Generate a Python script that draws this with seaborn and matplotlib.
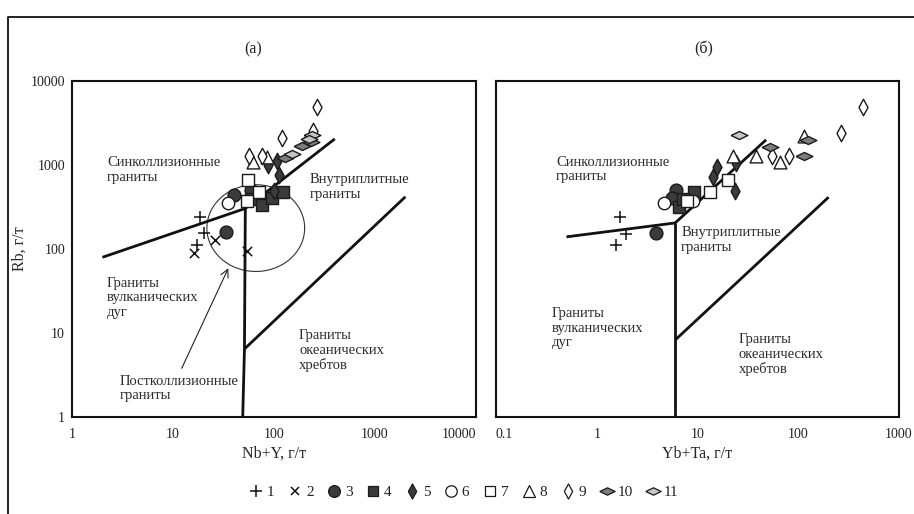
import numpy as np
import pandas as pd
import matplotlib
matplotlib.use("Agg")
import matplotlib.pyplot as plt
from matplotlib.lines import Line2D
from matplotlib.ticker import FixedLocator, FixedFormatter, NullLocator
import seaborn as sns

# ---- panel (а): Rb vs Nb+Y ----
a_group = [1, 1, 1, 2, 2, 2, 3, 3, 3, 4, 4, 4, 4, 5, 5, 5, 5, 6, 7, 7, 7,
           8, 8, 9, 9, 9, 9, 9, 10, 10, 10, 11, 11, 11]
a_nby = [18.5, 20.3, 17.2, 16.1, 26, 54.4, 33.5, 40.2, 59.2, 59, 76.6, 96, 124,
         88, 108, 113, 101, 35.3, 55.7, 71.5, 53.7, 62.4, 86,
         56.9, 75.5, 119, 265, 245, 191, 230, 128, 236, 220, 150]
a_rb = [240, 155, 112, 90, 129, 95, 158, 443, 499, 394, 337, 405, 472,
        1009, 1104, 767, 485, 353, 668, 472, 369, 1074, 1245,
        1266, 1291, 2096, 4900, 2513, 1700, 1900, 1230, 2250, 2050, 1350]

# ---- panel (б): Rb vs Yb+Ta ----
b_group = [1, 1, 1, 3, 3, 3, 4, 4, 4, 5, 5, 5, 5, 6, 6, 7, 7, 7,
           8, 8, 8, 8, 9, 9, 9, 9, 10, 10, 10, 11]
b_ybta = [1.72, 1.94, 1.54, 3.9, 6.05, 5.6, 9.3, 6.6, 7.2, 14.2, 15.5, 23.8, 24,
          4.7, 8.97, 7.8, 13.2, 20, 22.7, 38.1, 65.9, 115,
          55, 81.5, 268, 440, 52.5, 115, 124, 25.6]
b_rb = [244, 152, 113, 155, 499, 405, 472, 320, 400, 719, 946, 485, 1056,
        353, 369, 369, 472, 668, 1291, 1291, 1074, 2190,
        1266, 1266, 2404, 4900, 1637, 1291, 1964, 2296]

# field boundaries (Pearce et al.)
a_b1_x, a_b1_y = [2, 52, 400], [80, 305, 2050]
a_b2_x, a_b2_y = [52, 51, 49], [305, 6.5, 1]
a_b3_x, a_b3_y = [51, 2000], [6.5, 420]
b_b1_x, b_b1_y = [0.5, 6, 48], [140, 205, 2000]
b_b2_x, b_b2_y = [6, 6, 6], [205, 8.3, 1]
b_b3_x, b_b3_y = [6, 200], [8.3, 415]

# post-collisional ellipse (centre, half-axes in decades)
ell_centre = (66, 178)
ell_half = (0.484, 0.516)

legend_labels = ["1", "2", "3", "4", "5", "6", "7", "8", "9", "10", "11"]

tall = [(-0.55, 0), (0, 1), (0.55, 0), (0, -1), (-0.55, 0)]
flat = [(-1, 0), (0, 0.48), (1, 0), (0, -0.48), (-1, 0)]
dark = "#3b3b3b"
styles = {
    1: dict(marker="+", s=85, face="#111111"),
    2: dict(marker="x", s=45, face="#111111"),
    3: dict(marker="o", s=85, face=dark),
    4: dict(marker="s", s=70, face=dark),
    5: dict(marker=tall, s=140, face=dark),
    6: dict(marker="o", s=80, face="white"),
    7: dict(marker="s", s=70, face="white"),
    8: dict(marker="^", s=85, face="white"),
    9: dict(marker=tall, s=140, face="white"),
    10: dict(marker=flat, s=145, face="#7d7d7d"),
    11: dict(marker=flat, s=145, face="#c6c6c6"),
}

sns.set_theme(style="white")
plt.rcParams["font.family"] = ["Liberation Serif", "DejaVu Serif"]
plt.rcParams["text.color"] = "#222222"

fig = plt.figure(figsize=(9.14, 5.14), dpi=100)
ax1 = fig.add_axes([72 / 914, 1 - 417.3 / 514, 404 / 914, 336.3 / 514])
ax2 = fig.add_axes([496 / 914, 1 - 417.3 / 514, 403 / 914, 336.3 / 514])

df_a = pd.DataFrame({"group": a_group, "x": a_nby, "y": a_rb})
df_b = pd.DataFrame({"group": b_group, "x": b_ybta, "y": b_rb})


def draw_points(ax, df):
    for g, st in styles.items():
        sub = df[df["group"] == g]
        if sub.empty:
            continue
        if st["marker"] in ("+", "x"):
            sns.scatterplot(data=sub, x="x", y="y", marker=st["marker"], s=st["s"],
                            color=st["face"], linewidth=1.1, ax=ax, zorder=4)
        else:
            sns.scatterplot(data=sub, x="x", y="y", marker=st["marker"], s=st["s"],
                            color=st["face"], edgecolor="#1a1a1a", linewidth=1.0,
                            ax=ax, zorder=4)


line_kw = dict(color="#111111", lw=2.0, zorder=3, solid_capstyle="butt")
for xs, ys in [(a_b1_x, a_b1_y), (a_b2_x, a_b2_y), (a_b3_x, a_b3_y)]:
    ax1.plot(xs, ys, **line_kw)
for xs, ys in [(b_b1_x, b_b1_y), (b_b2_x, b_b2_y), (b_b3_x, b_b3_y)]:
    ax2.plot(xs, ys, **line_kw)

t = np.linspace(0, 2 * np.pi, 300)
ax1.plot(10 ** (np.log10(ell_centre[0]) + ell_half[0] * np.cos(t)),
         10 ** (np.log10(ell_centre[1]) + ell_half[1] * np.sin(t)),
         color="#333333", lw=0.8, zorder=2)
ax1.annotate("", xy=(35.3, 59.4), xytext=(12.2, 3.83),
             arrowprops=dict(arrowstyle="->", lw=0.8, color="#222222",
                             shrinkA=0, shrinkB=0, mutation_scale=14))

draw_points(ax1, df_a)
draw_points(ax2, df_b)

for ax in (ax1, ax2):
    ax.set_xscale("log")
    ax.set_yscale("log")
    ax.set_ylim(1, 10000)
    for sp in ax.spines.values():
        sp.set_linewidth(1.5)
        sp.set_color("#111111")
    ax.xaxis.set_minor_locator(NullLocator())
    ax.yaxis.set_minor_locator(NullLocator())
    ax.tick_params(direction="in", length=5, width=1.5, color="#111111",
                   labelsize=10, labelcolor="#222222")
    ax.tick_params(axis="x", pad=8)
    ax.tick_params(axis="y", pad=5)

ax1.set_xlim(1, 10000)
ax1.xaxis.set_major_locator(FixedLocator([1, 10, 100, 1000, 10000]))
ax1.xaxis.set_major_formatter(FixedFormatter(["1", "10", "100", "1000", "10000"]))
ax1.yaxis.set_major_locator(FixedLocator([1, 10, 100, 1000, 10000]))
ax1.yaxis.set_major_formatter(FixedFormatter(["1", "10", "100", "1000", "10000"]))
ax1.get_xticklabels()[-1].set_ha("right")

ax2.set_xlim(0.1, 1000)
ax2.xaxis.set_major_locator(FixedLocator([0.1, 1, 10, 100, 1000]))
ax2.xaxis.set_major_formatter(FixedFormatter(["0.1", "1", "10", "100", "1000"]))
ax2.get_xticklabels()[0].set_ha("left")
ax2.tick_params(axis="y", left=False, labelleft=False)

ax1.set_xlabel("Nb+Y, г/т", fontsize=11.5, labelpad=3)
ax2.set_xlabel("Yb+Ta, г/т", fontsize=11.5, labelpad=3)
ax1.set_ylabel("Rb, г/т", fontsize=11.5, labelpad=2)
ax2.set_ylabel("")

ax1.text(0.448, 1.094, "(а)", transform=ax1.transAxes, ha="center", va="center", fontsize=11.5)
ax2.text(0.516, 1.094, "(б)", transform=ax2.transAxes, ha="center", va="center", fontsize=11.5)

txt_kw = dict(ha="left", va="center", fontsize=10.5, linespacing=1.15, color="#2a2a2a")
ax1.text(2.22, 879, "Синколлизионные\nграниты", **txt_kw)
ax1.text(224, 552, "Внутриплитные\nграниты", **txt_kw)
ax1.text(2.21, 26.5, "Граниты\nвулканических\nдуг", **txt_kw)
ax1.text(177, 6.2, "Граниты\nокеанических\nхребтов", **txt_kw)
ax1.text(2.99, 2.21, "Постколлизионные\nграниты", **txt_kw)
ax2.text(0.393, 887, "Синколлизионные\nграниты", **txt_kw)
ax2.text(6.9, 129, "Внутриплитные\nграниты", **txt_kw)
ax2.text(0.356, 11.4, "Граниты\nвулканических\nдуг", **txt_kw)
ax2.text(25.6, 5.52, "Граниты\nокеанических\nхребтов", **txt_kw)

handles = []
for g, st in styles.items():
    ms = np.sqrt(st["s"]) * 0.92
    if st["marker"] in ("+", "x"):
        h = Line2D([], [], marker=st["marker"], ls="none", ms=ms, color=st["face"], mew=1.1)
    else:
        h = Line2D([], [], marker=st["marker"], ls="none", ms=ms, mfc=st["face"],
                   mec="#1a1a1a", mew=0.9)
    handles.append(h)
fig.legend(handles, legend_labels, loc="center", bbox_to_anchor=(463 / 914, 1 - 492 / 514),
           ncol=11, frameon=False, fontsize=11, handletextpad=0.1, columnspacing=0.75,
           handlelength=1.2)

# outer frame of the figure
fig.add_artist(Line2D([8 / 914, 8 / 914, 1.05], [-0.05, 1 - 17.3 / 514, 1 - 17.3 / 514],
                      transform=fig.transFigure, color="#111111", lw=1.3))

fig.savefig("out.png", dpi=100)
